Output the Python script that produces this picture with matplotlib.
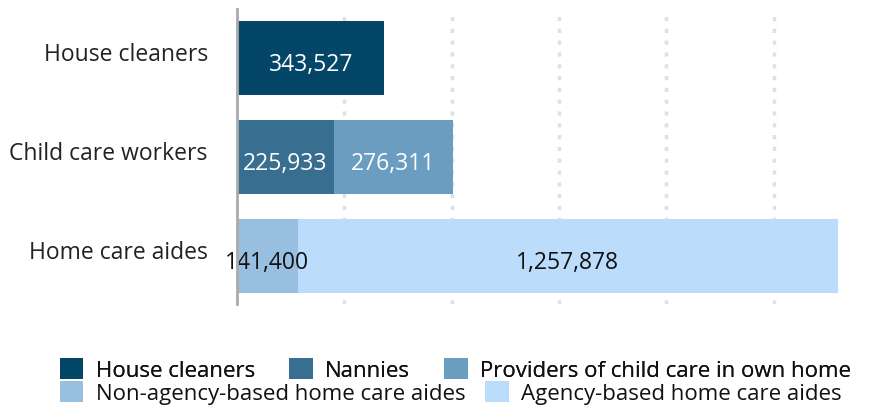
import matplotlib.pyplot as plt
from matplotlib.patches import Patch

plt.rcParams['font.family'] = ['Open Sans', 'DejaVu Sans']

categories = ["House cleaners", "Child care workers", "Home care aides"]
segments = [
    "House cleaners",
    "Nannies",
    "Providers of child care in own home",
    "Non-agency-based home care aides",
    "Agency-based home care aides",
]
# (row index, value) for each segment, stacked left to right per row
seg_rows = [0, 1, 1, 2, 2]
seg_values = [343527, 225933, 276311, 141400, 1257878]
seg_colors = ["#034667", "#386f91", "#6a9dbf", "#98bfe0", "#bbddfb"]
label_colors = ["white", "white", "white", "#111111", "#111111"]
gridlines = [250000, 500000, 750000, 1000000, 1250000]

FS = 16.5
LEG_FS = 16


def main():
    fig = plt.figure(figsize=(8.81, 4.06), dpi=100)
    ax = fig.add_axes([237 / 881, 1 - 305 / 406, 1 - 237 / 881, 295 / 406])

    for x in gridlines:
        ax.axvline(x, color="#e0e0e0", lw=2.5, ls=(0, (1.2, 2.2)), zorder=0)

    left = [0, 0, 0]
    handles = []
    for name, row, val, col, tcol in zip(segments, seg_rows, seg_values,
                                         seg_colors, label_colors):
        ax.barh(row, val, left=left[row], height=0.75, color=col, zorder=2)
        ax.text(left[row] + val / 2, row + 0.06, f"{val:,}", ha="center",
                va="center", color=tcol, fontsize=FS, zorder=3)
        left[row] += val
        handles.append(Patch(facecolor=col, label=name))

    ax.set_xlim(0, 1500000)
    ax.set_ylim(2.49, -0.5)
    ax.set_xticks([])
    # category names sit a little above the bar middle
    ax.set_yticks([r - 0.07 for r in range(len(categories))])
    ax.set_yticklabels(categories, fontsize=FS, color="#222222")
    ax.tick_params(axis="y", length=0, pad=21)
    for s in ["top", "right", "bottom"]:
        ax.spines[s].set_visible(False)
    ax.spines["left"].set_color("#aaaaaa")
    ax.spines["left"].set_linewidth(2)
    ax.spines["left"].set_zorder(4)

    opts = dict(frameon=False, fontsize=LEG_FS, handlelength=1.05,
                handleheight=1.05, handletextpad=0.55, borderpad=0,
                borderaxespad=0, labelcolor="#111111")
    leg1 = fig.legend(handles=handles[:3], ncol=3, loc="upper left",
                      bbox_to_anchor=(60 / 881, 1 - 359 / 406),
                      columnspacing=1.55, **opts)
    fig.legend(handles=handles[3:], ncol=2, loc="upper left",
               bbox_to_anchor=(60 / 881, 1 - 382 / 406),
               columnspacing=0.9, **opts)
    fig.add_artist(leg1)

    fig.savefig("out.png", dpi=100)


if __name__ == "__main__":
    main()
